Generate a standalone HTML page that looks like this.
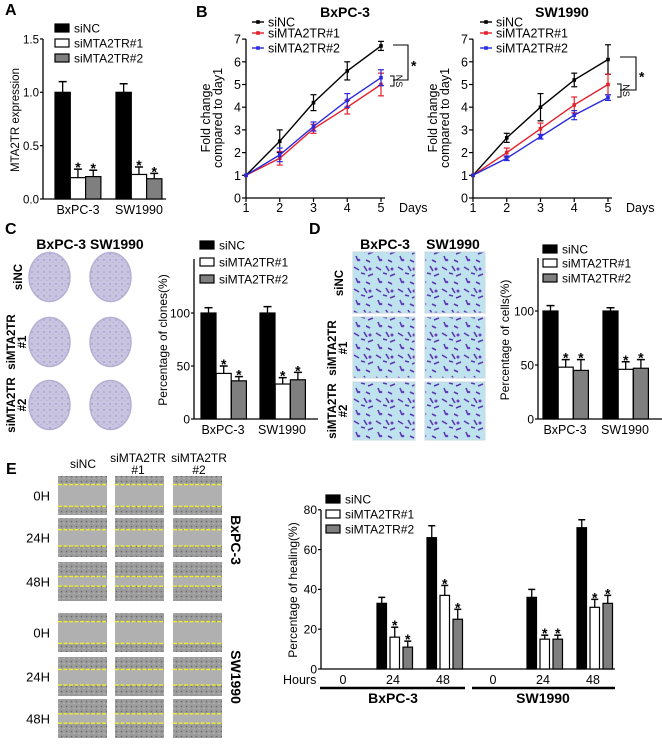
<!DOCTYPE html>
<html><head><meta charset="utf-8"><style>
html,body{margin:0;padding:0;background:#fff}
svg{display:block;font-family:"Liberation Sans",Arial,sans-serif}
</style></head><body>
<svg id="fig" width="662" height="744" viewBox="0 0 662 744" xmlns="http://www.w3.org/2000/svg">
<defs>
<pattern id="dish" width="6" height="6" patternUnits="userSpaceOnUse"><rect width="6" height="6" fill="#c9c5e1"/><circle cx="2" cy="2" r="0.7" fill="#8f88c4"/><circle cx="5" cy="4.5" r="0.5" fill="#a49ed0"/></pattern>
<pattern id="trans" width="22" height="22" patternUnits="userSpaceOnUse"><rect width="22" height="22" fill="#bfe3ee"/><path d="M2 3l5 3M12 2l3 5M16 12l5-2M4 14l2 5M9 9l4 1M14 18l4 2" stroke="#5b3ab0" stroke-width="1.6"/><circle cx="18" cy="5" r="1.5" fill="#6a3cc0"/><circle cx="7" cy="18" r="1.3" fill="#6a3cc0"/></pattern>
<pattern id="cells" width="5" height="5" patternUnits="userSpaceOnUse"><rect width="5" height="5" fill="#9c9c9c"/><circle cx="1.5" cy="1.5" r="0.8" fill="#6a6a6a"/><circle cx="4" cy="3.5" r="0.6" fill="#c4c4c4"/></pattern>
</defs>
<g id="root"></g>
</svg>
<script>
// ---------- Panel A data ----------
const aCategories = ["BxPC-3", "SW1990"];
const aSiNC = [1.0, 1.0];
const aSi1 = [0.20, 0.23];
const aSi2 = [0.21, 0.19];
const aErrNC = [0.10, 0.08];
const aErr1 = [0.08, 0.07];
const aErr2 = [0.06, 0.05];
const aTicks = ["0.0", "0.5", "1.0", "1.5"];
const aTickVals = [0, 0.5, 1.0, 1.5];
// ---------- Panel B data ----------
const bDays = [1, 2, 3, 4, 5];
const bBxNC = [1, 2.5, 4.2, 5.6, 6.7];
const bBx1 = [1, 1.75, 3.05, 4.0, 5.0];
const bBx2 = [1, 1.9, 3.15, 4.3, 5.3];
const bBxNCerr = [0, 0.5, 0.35, 0.4, 0.2];
const bBx1err = [0, 0.3, 0.2, 0.3, 0.5];
const bBx2err = [0, 0.3, 0.2, 0.3, 0.35];
const bSwNC = [1, 2.65, 4.0, 5.2, 6.1];
const bSw1 = [1, 2.0, 3.05, 4.1, 5.0];
const bSw2 = [1, 1.75, 2.7, 3.65, 4.42];
const bSwNCerr = [0, 0.2, 0.6, 0.3, 0.65];
const bSw1err = [0, 0.2, 0.25, 0.35, 0.45];
const bSw2err = [0, 0.1, 0.1, 0.2, 0.12];
const bTicks = [0, 1, 2, 3, 4, 5, 6, 7];
// ---------- Panel C data ----------
const cCategories = ["BxPC-3", "SW1990"];
const cSiNC = [100, 100];
const cSi1 = [43, 33];
const cSi2 = [36, 37];
const cErrNC = [5, 6];
const cErr1 = [7, 6];
const cErr2 = [4, 7];
const cTicks = [0, 50, 100];
// ---------- Panel D data ----------
const dCategories = ["BxPC-3", "SW1990"];
const dSiNC = [100, 100];
const dSi1 = [48, 46];
const dSi2 = [45, 47];
const dErrNC = [5, 3];
const dErr1 = [7, 7];
const dErr2 = [10, 8];
const dTicks = [0, 50, 100];
// ---------- Panel E data ----------
const eHours = ["0", "24", "48", "0", "24", "48"];
const eSiNC = [0, 33, 66, 0, 36, 71];
const eSi1 = [0, 16, 37, 0, 15, 31];
const eSi2 = [0, 11, 25, 0, 15, 33];
const eErrNC = [0, 3, 6, 0, 4, 4];
const eErr1 = [0, 5, 5, 0, 2, 4];
const eErr2 = [0, 3, 5, 0, 2, 4];
const eTicks = [0, 20, 40, 60, 80];

const NS = "http://www.w3.org/2000/svg";
const root = document.getElementById("root");
function mk(tag, attrs, parent, txt) {
  const e = document.createElementNS(NS, tag);
  for (const k in attrs) e.setAttribute(k, attrs[k]);
  if (txt !== undefined) e.textContent = txt;
  (parent || root).appendChild(e);
  return e;
}
function line(x1, y1, x2, y2, p, c, w) { return mk("line", {x1, y1, x2, y2, stroke: c || "#000", "stroke-width": w || 1}, p); }
const fills = ["#000", "#fff", "#7f7f7f"];

function panelLetter(t, x, y) {
  const e = mk("text", {x, y, "font-size": 16, "font-weight": "bold"}, root, t);
  
  
}

function barLegend(x, ys, g) {
  const labels = ["siNC", "siMTA2TR#1", "siMTA2TR#2"];
  labels.forEach((l, i) => {
    const le = mk("g", {}, g);
    
    
    mk("rect", {x, y: ys[i] - 4, width: 14, height: 8, fill: fills[i], stroke: "#000", "stroke-width": 1.2}, le);
    mk("text", {x: x + 19, y: ys[i] + 4.5, "font-size": 12}, le, l);
  });
}

function barChart(cfg) {
  const g = mk("g", {});
  
  
  const ys = v => cfg.y0 - v * cfg.ppu;
  const tf = cfg.tickFont || 12;
  line(cfg.ax, cfg.yTop, cfg.ax, cfg.y0, g, "#000", 1.3);
  line(cfg.ax, cfg.y0, cfg.xEnd, cfg.y0, g, "#000", 1.3);
  cfg.tickVals.forEach((v, i) => {
    line(cfg.ax - 3, ys(v), cfg.ax, ys(v), g, "#000", 1.2);
    const t = mk("text", {x: cfg.ax - 4, y: ys(v) + 4.3, "font-size": tf, "text-anchor": "end"}, g, cfg.tickLabels[i]);
    
    
  });
  const yl = mk("text", {transform: `translate(${cfg.ylx},${cfg.yly}) rotate(-90)`, "font-size": cfg.ylFont || 12, "text-anchor": "middle"}, g, cfg.ylabel);
  
  
  const series = cfg.series, errs = cfg.errs;
  cfg.cats.forEach((c, gi) => {
    const gx = cfg.g0 + gi * cfg.gstep;
    series.forEach((s, si) => {
      const v = s[gi];
      const x = gx + si * cfg.bstep;
      if (v > 0) {
        const r = mk("rect", {x, y: ys(v), width: cfg.bw, height: cfg.y0 - ys(v), fill: fills[si], stroke: "#000", "stroke-width": 1.2}, g);
        
        
        const e = errs[si][gi];
        const cx = x + cfg.bw / 2;
        line(cx, ys(v), cx, ys(v + e), g, "#000", 1.3);
        line(cx - cfg.cap, ys(v + e), cx + cfg.cap, ys(v + e), g, "#000", 1.5);
        if (si > 0) mk("text", {x: cx, y: ys(v + e) + 3, "font-size": 14, "font-weight": "bold", "text-anchor": "middle"}, g, "*");
      }
    });
    if (cfg.catLabels) {
      const t = mk("text", {x: gx + cfg.labOff, y: cfg.laby, "font-size": 12.5, "text-anchor": "middle"}, g, c);
      
      
    }
  });
  return g;
}

// ---------- Panel A ----------
panelLetter("A", 5, 15);
const gA = barChart({name: "chart-a-mta2tr-expression", ax: 43, y0: 199, yTop: 39, xEnd: 166, ppu: 106.7,
  tickVals: aTickVals, tickLabels: aTicks, ylabel: "MTA2TR expression", ylx: 19, yly: 120, tickFont: 11.5, ylFont: 11.5,
  cats: aCategories, series: [aSiNC, aSi1, aSi2], errs: [aErrNC, aErr1, aErr2],
  g0: 55, gstep: 61, bstep: 15.3, bw: 15.3, cap: 4, catLabels: true, labOff: 23, laby: 214});
barLegend(55, [28, 43, 58], gA);

// ---------- Panel B ----------
panelLetter("B", 196, 17);
function lineChart(cfg) {
  const g = mk("g", {});
  
  
  const step = 33.75, ppu = 22.7, y0 = 198;
  const xs = d => cfg.x0 + (d - 1) * step;
  const ys = v => y0 - v * ppu;
  line(cfg.x0, ys(7), cfg.x0, y0, g, "#000", 1.3);
  line(cfg.x0, y0, xs(5) + 4, y0, g, "#000", 1.3);
  bTicks.forEach(v => {
    line(cfg.x0 - 4, ys(v), cfg.x0, ys(v), g, "#000", 1.2);
    mk("text", {x: cfg.x0 - 5, y: ys(v) + 4.5, "font-size": 12.5, "text-anchor": "end"}, g, String(v));
  });
  bDays.forEach(d => {
    line(xs(d), y0, xs(d), y0 + 4, g, "#000", 1.2);
    mk("text", {x: xs(d), y: y0 + 14, "font-size": 12.5, "text-anchor": "middle"}, g, String(d));
  });
  mk("text", {x: xs(5) + 18, y: y0 + 14, "font-size": 12.5}, g, "Days");
  mk("text", {x: cfg.titleX, y: 17, "font-size": 14, "font-weight": "bold", "text-anchor": "middle"}, g, cfg.title);
  mk("text", {transform: `translate(${cfg.x0 - 36},118) rotate(-90)`, "font-size": 12.5, "text-anchor": "middle"}, g, "Fold change");
  mk("text", {transform: `translate(${cfg.x0 - 24},118) rotate(-90)`, "font-size": 12.5, "text-anchor": "middle"}, g, "compared to day1");
  const cols = ["#000", "#e3202b", "#2a2ae0"];
  const names = ["siNC", "siMTA2TR#1", "siMTA2TR#2"];
  cfg.series.forEach((s, si) => {
    const pts = bDays.map((d, i) => xs(d) + "," + ys(s[i])).join(" ");
    const pl = mk("polyline", {points: pts, fill: "none", stroke: cols[si], "stroke-width": 1.4}, g);
    
    
    bDays.forEach((d, i) => {
      const e = cfg.errs[si][i];
      const ec = si === 0 ? "#000" : cols[si];
      if (e > 0) {
        line(xs(d), ys(s[i] - e), xs(d), ys(s[i] + e), g, ec, 1.2);
        line(xs(d) - 3, ys(s[i] - e), xs(d) + 3, ys(s[i] - e), g, ec, 1.2);
        line(xs(d) - 3, ys(s[i] + e), xs(d) + 3, ys(s[i] + e), g, ec, 1.2);
      }
      mk("rect", {x: xs(d) - 1.8, y: ys(s[i]) - 1.8, width: 3.6, height: 3.6, fill: cols[si]}, g);
    });
    const ly = [26, 37, 52][si] - 4;
    const le = mk("g", {}, g);
    
    
    line(cfg.legX, ly, cfg.legX + 12, ly, le, cols[si], 1.4);
    mk("rect", {x: cfg.legX + 4.2, y: ly - 1.8, width: 3.6, height: 3.6, fill: cols[si]}, le);
    mk("text", {x: cfg.legX + 16, y: ly + 4.5, "font-size": 12.5}, le, names[si]);
  });
  const b = cfg.br;
  mk("path", {d: `M${b.x1} ${b.top} H${b.x2} V${b.bot} H${b.x1}`, fill: "none", stroke: "#000", "stroke-width": 1.1}, g);
  mk("text", {x: b.x2 + 3, y: (b.top + b.bot) / 2 + 8, "font-size": 14, "font-weight": "bold"}, g, "*");
  mk("path", {d: `M${b.nx} ${b.nt} H${b.nx + 4} V${b.nb} H${b.nx}`, fill: "none", stroke: "#000", "stroke-width": 1}, g);
  mk("text", {transform: `translate(${b.nx + 6},${(b.nt + b.nb) / 2}) rotate(90)`, "font-size": 9, "text-anchor": "middle"}, g, "NS");
}
lineChart({name: "chart-b-bxpc3-growth", x0: 246, title: "BxPC-3", titleX: 345, legX: 252,
  series: [bBxNC, bBx1, bBx2], errs: [bBxNCerr, bBx1err, bBx2err],
  br: {x1: 393, x2: 408, top: 45, bot: 80, nx: 390, nt: 76, nb: 86}});
lineChart({name: "chart-b-sw1990-growth", x0: 473, title: "SW1990", titleX: 562, legX: 480,
  series: [bSwNC, bSw1, bSw2], errs: [bSwNCerr, bSw1err, bSw2err],
  br: {x1: 620, x2: 636, top: 57, bot: 90, nx: 617, nt: 84, nb: 97}});

// ---------- Panel C ----------
panelLetter("C", 5, 234);
const gCimg = mk("g", {});


mk("text", {x: 90, y: 249, "font-size": 14, "font-weight": "bold", "text-anchor": "middle"}, gCimg, "BxPC-3 SW1990");
[277, 342, 405].forEach(cy => {
  [49.5, 110.5].forEach(cx => mk("ellipse", {cx, cy, rx: 20.5, ry: 24.5, fill: "url(#dish)", stroke: "#b4b0d4", "stroke-width": 1.5}, gCimg));
});
function rowLabel(lines, x, cy, g) {
  lines.forEach((l, i) => mk("text", {transform: `translate(${x + i * 11},${cy}) rotate(-90)`, "font-size": 11.5, "font-weight": "bold", "text-anchor": "middle"}, g, l));
}
rowLabel(["siNC"], 22, 277, gCimg);
rowLabel(["siMTA2TR", "#1"], 15, 342, gCimg);
rowLabel(["siMTA2TR", "#2"], 15, 405, gCimg);
const gC = barChart({name: "chart-c-clones", ax: 194, y0: 419, yTop: 259, xEnd: 318, ppu: 1.06,
  tickVals: cTicks, tickLabels: cTicks.map(String), ylabel: "Percentage of clones(%)", ylx: 167, yly: 340,
  cats: cCategories, series: [cSiNC, cSi1, cSi2], errs: [cErrNC, cErr1, cErr2],
  g0: 201, gstep: 59, bstep: 15.2, bw: 15, cap: 4, catLabels: true, labOff: 22, laby: 434});
barLegend(200, [245, 262, 279], gC);

// ---------- Panel D ----------
panelLetter("D", 309, 234);
const gDimg = mk("g", {});


mk("text", {x: 385, y: 249, "font-size": 14, "font-weight": "bold", "text-anchor": "middle"}, gDimg, "BxPC-3");
mk("text", {x: 453, y: 249, "font-size": 14, "font-weight": "bold", "text-anchor": "middle"}, gDimg, "SW1990");
[[252, 61], [317, 61], [382, 58]].forEach(r => {
  [[353, 62], [425, 60]].forEach(c => mk("rect", {x: c[0], y: r[0], width: c[1], height: r[1], fill: "url(#trans)", stroke: "#c8d8e0"}, gDimg));
});
rowLabel(["siNC"], 343, 283, gDimg);
rowLabel(["siMTA2TR", "#1"], 336, 348, gDimg);
rowLabel(["siMTA2TR", "#2"], 336, 411, gDimg);
const gD = barChart({name: "chart-d-cells", ax: 538, y0: 419, yTop: 258, xEnd: 662, ppu: 1.08,
  tickVals: dTicks, tickLabels: dTicks.map(String), ylabel: "Percentage of cells(%)", ylx: 509, yly: 340,
  cats: dCategories, series: [dSiNC, dSi1, dSi2], errs: [dErrNC, dErr1, dErr2],
  g0: 543, gstep: 60, bstep: 15.2, bw: 15, cap: 4, catLabels: true, labOff: 22, laby: 434});
barLegend(543, [249, 263, 278], gD);

// ---------- Panel E images ----------
panelLetter("E", 6, 474);
const gE = mk("g", {});


mk("text", {x: 83, y: 468, "font-size": 12, "text-anchor": "middle"}, gE, "siNC");
mk("text", {x: 138, y: 462, "font-size": 12, "text-anchor": "middle"}, gE, "siMTA2TR");
mk("text", {x: 138, y: 474, "font-size": 12, "text-anchor": "middle"}, gE, "#1");
mk("text", {x: 199, y: 462, "font-size": 12, "text-anchor": "middle"}, gE, "siMTA2TR");
mk("text", {x: 199, y: 474, "font-size": 12, "text-anchor": "middle"}, gE, "#2");
const eRows = [[476, "0H", 0.22, 0.78], [518, "24H", 0.3, 0.72], [562, "48H", 0.37, 0.62], [613, "0H", 0.22, 0.78], [657, "24H", 0.32, 0.72], [699, "48H", 0.38, 0.62]];
eRows.forEach(r => {
  const [y, lab, f1, f2] = r;
  const h = 39;
  mk("text", {x: 50, y: y + h / 2 + 5, "font-size": 13, "text-anchor": "end"}, gE, lab);
  [58, 115, 173].forEach(x => {
    mk("rect", {x, y, width: 49, height: h, fill: "url(#cells)"}, gE);
    mk("rect", {x, y: y + h * f1, width: 49, height: h * (f2 - f1), fill: "#b0b0b0"}, gE);
    line(x, y + h * f1, x + 49, y + h * f1, gE, "#f0ee30", 1.4).setAttribute("stroke-dasharray", "4 1.5");
    line(x, y + h * f2, x + 49, y + h * f2, gE, "#f0ee30", 1.4).setAttribute("stroke-dasharray", "4 1.5");
  });
});
mk("text", {transform: "translate(231,540) rotate(90)", "font-size": 14, "font-weight": "bold", "text-anchor": "middle"}, gE, "BxPC-3");
mk("text", {transform: "translate(231,677) rotate(90)", "font-size": 14, "font-weight": "bold", "text-anchor": "middle"}, gE, "SW1990");

// ---------- Panel E chart ----------
const gEc = barChart({name: "chart-e-healing", ax: 321, y0: 669, yTop: 510, xEnd: 615, ppu: 1.99,
  tickVals: eTicks, tickLabels: eTicks.map(String), ylabel: "Percentage of healing(%)", ylx: 297, yly: 590,
  cats: eHours, series: [eSiNC, eSi1, eSi2], errs: [eErrNC, eErr1, eErr2],
  g0: 327, gstep: 50, bstep: 13, bw: 9.5, cap: 3.5, catLabels: false});
const eHourX0 = 343;
eHours.forEach((h, i) => {
  const t = mk("text", {x: eHourX0 + i * 50, y: 684, "font-size": 12.5, "text-anchor": "middle"}, gEc, h);
  
  
});
mk("text", {x: 283, y: 684, "font-size": 12.5}, gEc, "Hours");
line(320, 688, 465, 688, gEc, "#000", 2.5);
line(472, 688, 615, 688, gEc, "#000", 2.5);
mk("text", {x: 393, y: 703, "font-size": 14, "font-weight": "bold", "text-anchor": "middle"}, gEc, "BxPC-3");
mk("text", {x: 543, y: 703, "font-size": 14, "font-weight": "bold", "text-anchor": "middle"}, gEc, "SW1990");
barLegend(326, [499, 514, 529], gEc);
</script>
</body></html>
